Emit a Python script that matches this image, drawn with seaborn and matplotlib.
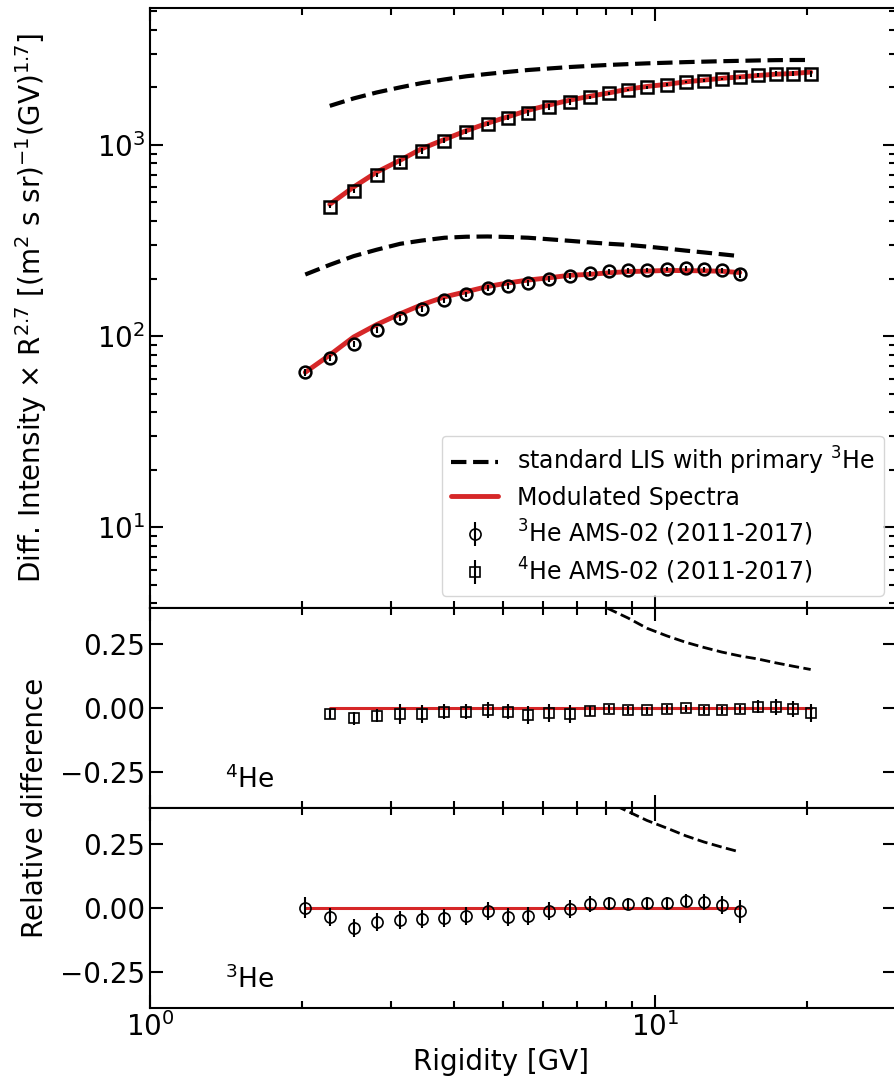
import numpy as np
import matplotlib
matplotlib.use("Agg")
import matplotlib.pyplot as plt
import seaborn as sns

sns.set_theme(style="ticks")
plt.rcParams['font.family'] = ['DejaVu Sans']
plt.rcParams['mathtext.fontset'] = 'dejavusans'
plt.rcParams.update({'text.color': 'black', 'axes.labelcolor': 'black',
                     'xtick.color': 'black', 'ytick.color': 'black'})

# rigidity bins (GV), AMS-02 He isotopes
rig_he3 = [2.03, 2.27, 2.53, 2.81, 3.13, 3.45, 3.83, 4.23, 4.66, 5.12, 5.61,
           6.17, 6.79, 7.44, 8.11, 8.84, 9.64, 10.56, 11.51, 12.5, 13.56, 14.72]
rig_he4 = [2.27, 2.53, 2.81, 3.13, 3.45, 3.83, 4.23, 4.66, 5.12, 5.61, 6.17,
           6.79, 7.44, 8.11, 8.84, 9.64, 10.56, 11.51, 12.5, 13.56, 14.72,
           15.98, 17.34, 18.74, 20.34]

# flux x R^2.7
data_he3 = [64.7, 76.9, 91.0, 108.1, 124.4, 139.2, 153.8, 165.3, 179.1, 182.8, 190.2,
            198.9, 207.0, 213.3, 218.0, 220.6, 222.5, 224.4, 226.0, 224.4, 220.6, 211.9]
data_he4 = [476, 577, 697, 812, 930, 1052, 1169, 1287, 1384, 1475, 1586, 1671, 1774,
            1862, 1937, 2000, 2064, 2132, 2166, 2211, 2257, 2313, 2350, 2360, 2350]

model_he3 = [64.7, 79.7, 98.9, 114.8, 130.9, 145.8, 160.4, 170.8, 181.8, 189.8, 196.5,
             201.9, 208.2, 210.4, 214.4, 217.5, 218.8, 220.6, 220.0, 219.6, 218.4, 215.1]
model_he4 = [489, 602, 720, 832, 955, 1068, 1187, 1299, 1405, 1518, 1617, 1716, 1797,
             1871, 1957, 2022, 2074, 2138, 2183, 2229, 2268, 2306, 2343, 2362, 2403]

lis_he3 = [210, 236, 262, 283, 304, 316, 327, 331, 332, 330, 327,
           321, 315, 309, 304, 300, 294, 287, 280, 274, 268, 262]
lis_he4 = [1600, 1750, 1880, 2000, 2105, 2200, 2285, 2350, 2410, 2465, 2510, 2555, 2590,
           2620, 2645, 2670, 2690, 2710, 2725, 2740, 2752, 2765, 2775, 2780, 2780]

# relative differences (data - model)/model
rel_he3 = [0.000, -0.035, -0.080, -0.058, -0.050, -0.045, -0.041, -0.032, -0.015, -0.037, -0.032,
           -0.015, -0.006, 0.014, 0.017, 0.014, 0.017, 0.017, 0.027, 0.022, 0.010, -0.015]
err_he3 = [0.040, 0.035, 0.035, 0.035, 0.035, 0.035, 0.035, 0.035, 0.035, 0.035, 0.035,
           0.035, 0.035, 0.030, 0.025, 0.025, 0.025, 0.025, 0.025, 0.030, 0.035, 0.045]
rel_he4 = [-0.026, -0.041, -0.032, -0.024, -0.026, -0.015, -0.015, -0.009, -0.015, -0.028,
           -0.019, -0.026, -0.013, -0.005, -0.010, -0.011, -0.005, -0.003, -0.008, -0.008,
           -0.005, 0.003, 0.003, -0.005, -0.022]
err_he4 = [0.020, 0.025, 0.025, 0.040, 0.035, 0.030, 0.030, 0.030, 0.030, 0.035, 0.035,
           0.035, 0.020, 0.015, 0.015, 0.015, 0.015, 0.015, 0.015, 0.015, 0.015, 0.025,
           0.030, 0.030, 0.035]

# (LIS - model)/model, visible part only
rel_lis_rig_he4 = [6.79, 7.44, 8.11, 8.84, 9.64, 10.56, 11.51, 12.5, 13.56, 14.72, 15.98, 17.34, 18.74, 20.34]
rel_lis_he4 = [0.48, 0.43, 0.385, 0.35, 0.31, 0.28, 0.255, 0.235, 0.217, 0.202, 0.19, 0.175, 0.162, 0.149]
rel_lis_rig_he3 = [7.44, 8.11, 8.84, 9.64, 10.56, 11.51, 12.5, 13.56, 14.72]
rel_lis_he3 = [0.45, 0.41, 0.375, 0.34, 0.31, 0.28, 0.256, 0.236, 0.217]

RED = '#d62728'

fig = plt.figure(figsize=(8.95, 10.8), dpi=100)
gs = fig.add_gridspec(3, 1, height_ratios=[3, 1, 1], hspace=0,
                      left=0.1676, right=1.001, top=0.9926, bottom=0.0671)
ax1 = fig.add_subplot(gs[0])
ax2 = fig.add_subplot(gs[1], sharex=ax1)
ax3 = fig.add_subplot(gs[2], sharex=ax1)

# top panel
sns.lineplot(x=rig_he4, y=lis_he4, ax=ax1, color='black', lw=3, linestyle='--', label='standard LIS with primary $^3$He')
sns.lineplot(x=rig_he3, y=lis_he3, ax=ax1, color='black', lw=3, linestyle='--')
sns.lineplot(x=rig_he4, y=model_he4, ax=ax1, color=RED, lw=3.5, label='Modulated Spectra')
sns.lineplot(x=rig_he3, y=model_he3, ax=ax1, color=RED, lw=3.5)
yerr3 = np.array(data_he3) * np.array(err_he3)
yerr4 = np.array(data_he4) * np.array(err_he4)
ax1.errorbar(rig_he3, data_he3, yerr=yerr3, fmt='o', color='black', mfc='none',
             ms=8.5, mew=1.8, elinewidth=1.5, zorder=5)
ax1.errorbar(rig_he4, data_he4, yerr=yerr4, fmt='s', color='black', mfc='none',
             ms=8, mew=1.8, elinewidth=1.5, zorder=5)
ax1.set_xscale('log')
ax1.set_yscale('log')
ax1.set_xlim(1, 30)
ax1.set_ylim(3.8, 5200)
ax1.set_ylabel(r'Diff. Intensity $\times$ R$^{2.7}$ [(m$^2$ s sr)$^{-1}$(GV)$^{1.7}$]', fontsize=20)

# middle panel: 4He
ax2.plot(rig_he4, np.zeros(len(rig_he4)), color=RED, lw=2.2)
ax2.plot(rel_lis_rig_he4, rel_lis_he4, color='black', lw=2, linestyle='--')
eb4 = ax2.errorbar(rig_he4, rel_he4, yerr=err_he4, fmt='s', color='black', mfc='none',
                   ms=7.5, mew=1.2, elinewidth=1.5, zorder=5)
ax2.set_ylim(-0.39, 0.39)
ax2.text(0.1, 0.1, '$^4$He', transform=ax2.transAxes, fontsize=19)

# bottom panel: 3He
ax3.plot(rig_he3, np.zeros(len(rig_he3)), color=RED, lw=2.2)
ax3.plot(rel_lis_rig_he3, rel_lis_he3, color='black', lw=2, linestyle='--')
eb3 = ax3.errorbar(rig_he3, rel_he3, yerr=err_he3, fmt='o', color='black', mfc='none',
                   ms=8, mew=1.2, elinewidth=1.5, zorder=5)
ax3.set_ylim(-0.39, 0.39)
ax3.text(0.1, 0.1, '$^3$He', transform=ax3.transAxes, fontsize=19)
ax3.set_xlabel('Rigidity [GV]', fontsize=20)
ax3.xaxis.set_label_coords(0.471, -0.2)
ax2.set_ylabel('Relative difference', fontsize=20)
ax2.yaxis.set_label_coords(-0.135, 0.0)
ax1.yaxis.set_label_coords(-0.135, 0.5)

for ax in (ax2, ax3):
    ax.set_yticks([-0.25, 0.0, 0.25])
    ax.yaxis.set_minor_locator(matplotlib.ticker.NullLocator())

for ax in (ax1, ax2, ax3):
    ax.tick_params(which='both', direction='in', top=True, right=True, labelsize=20)
    ax.tick_params(which='major', length=9.5, width=1.5)
    ax.tick_params(which='minor', length=5, width=1.5)
    for sp in ax.spines.values():
        sp.set_linewidth(1.5)
        sp.set_color('black')
ax1.tick_params(labelbottom=False)
ax2.tick_params(labelbottom=False)

h, l = ax1.get_legend_handles_labels()
handles = [h[0], h[1], eb3, eb4]
labels = [l[0], l[1], '$^3$He AMS-02 (2011-2017)', '$^4$He AMS-02 (2011-2017)']
ax1.legend(handles, labels, loc='lower right', fontsize=17, labelspacing=0.35)

fig.savefig('out.png', dpi=100)
